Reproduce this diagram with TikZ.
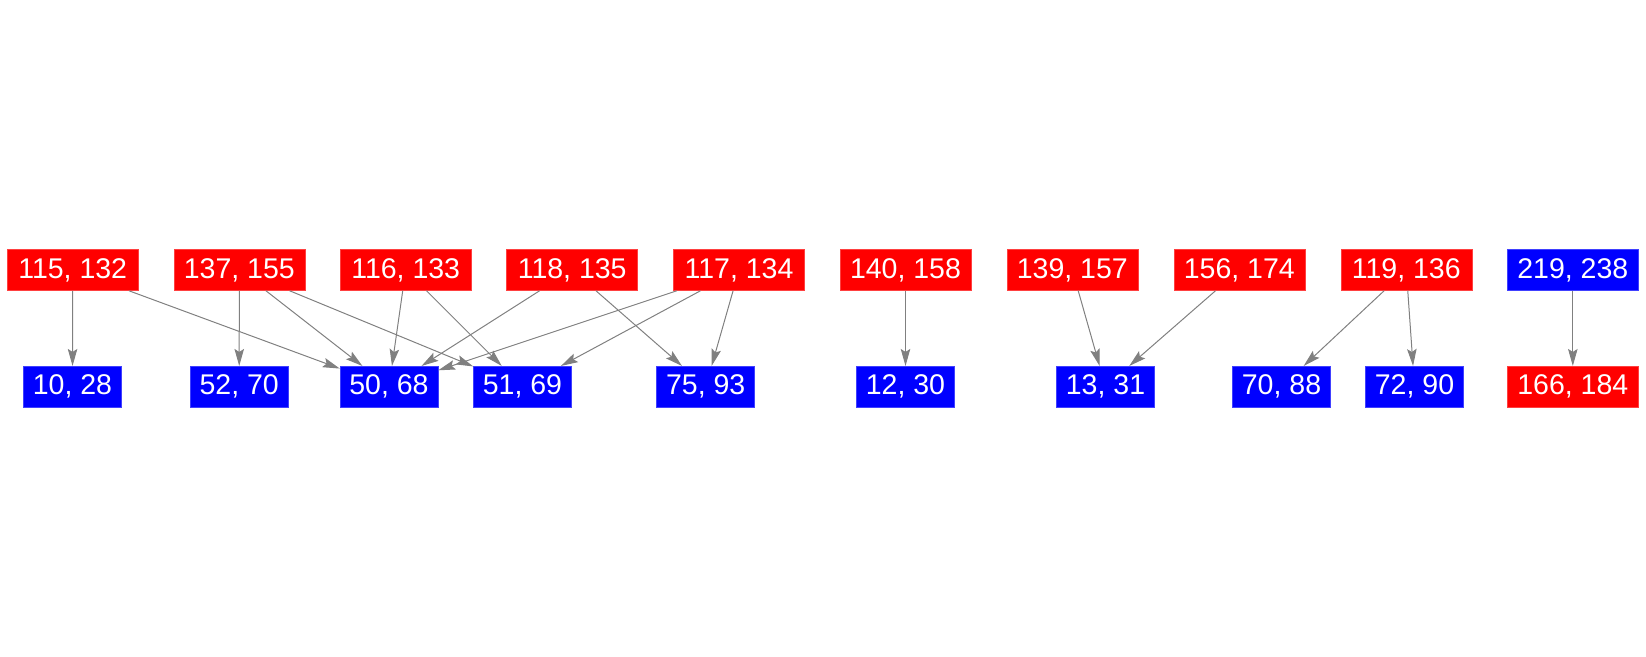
\documentclass[tikz,border=0pt]{standalone}
\usepackage{fontspec}
\setmainfont{Liberation Sans}
\usetikzlibrary{arrows.meta}
\begin{document}
\begin{tikzpicture}[x=1pt,y=-1pt,
  rbox/.style={fill=red,draw=red!75!white,line width=0.5pt,text=white,inner sep=0pt,minimum height=41pt,font=\fontsize{28.5}{30}\selectfont},
  bbox/.style={fill=blue,draw=blue!75!white,line width=0.5pt,text=white,inner sep=0pt,minimum height=41pt,font=\fontsize{28.5}{30}\selectfont},
  wide/.style={minimum width=131pt},
  narrow/.style={minimum width=98pt},
  edge/.style={draw=gray,line width=1pt,-{Stealth[length=17pt,width=9.5pt,inset=3pt]}}]
\useasboundingbox (0,0) rectangle (1646,656);
% top row
\node[rbox,wide] (t1) at (72.7,270) {115, 132};
\node[rbox,wide] (t2) at (239.3,270) {137, 155};
\node[rbox,wide] (t3) at (405.7,270) {116, 133};
\node[rbox,wide] (t4) at (572.2,270) {118, 135};
\node[rbox,wide] (t5) at (739,270) {117, 134};
\node[rbox,wide] (t6) at (905.5,270) {140, 158};
\node[rbox,wide] (t7) at (1072.3,270) {139, 157};
\node[rbox,wide] (t8) at (1239.3,270) {156, 174};
\node[rbox,wide] (t9) at (1406.3,270) {119, 136};
\node[bbox,wide] (t10) at (1572.8,270) {219, 238};
% bottom row
\node[bbox,narrow] (b1) at (72.5,386.7) {10, 28};
\node[bbox,narrow] (b2) at (239.2,386.7) {52, 70};
\node[bbox,narrow] (b3) at (389,386.7) {50, 68};
\node[bbox,narrow] (b4) at (522.5,386.7) {51, 69};
\node[bbox,narrow] (b5) at (705.7,386.7) {75, 93};
\node[bbox,narrow] (b6) at (905.5,386.7) {12, 30};
\node[bbox,narrow] (b7) at (1105.5,386.7) {13, 31};
\node[bbox,narrow] (b8) at (1281.5,386.7) {70, 88};
\node[bbox,narrow] (b9) at (1414.5,386.7) {72, 90};
\node[rbox,wide] (b10) at (1572.8,386.7) {166, 184};
% edges
\draw[edge] (t1) -- (b1);
\draw[edge] (t1) -- (b3);
\draw[edge] (t2) -- (b2);
\draw[edge] (t2) -- (b3);
\draw[edge] (t2) -- (b4);
\draw[edge] (t3) -- (b3);
\draw[edge] (t3) -- (b4);
\draw[edge] (t4) -- (b3);
\draw[edge] (t4) -- (b5);
\draw[edge] (t5) -- (b3);
\draw[edge] (t5) -- (b4);
\draw[edge] (t5) -- (b5);
\draw[edge] (t6) -- (b6);
\draw[edge] (t7) -- (b7);
\draw[edge] (t8) -- (b7);
\draw[edge] (t9) -- (b8);
\draw[edge] (t9) -- (b9);
\draw[edge] (t10) -- (b10);
\end{tikzpicture}
\end{document}
